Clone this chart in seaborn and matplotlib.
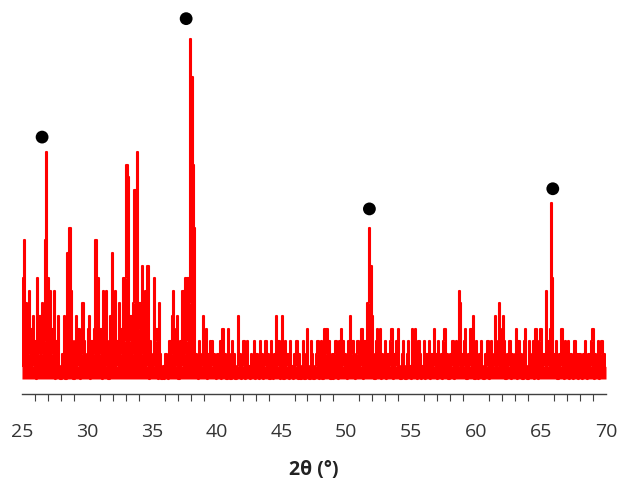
import numpy as np
import pandas as pd
import seaborn as sns
import matplotlib.pyplot as plt

# ── Data ────────────────────────────────────────────────────────────────────
# 2-theta scan, 25-70 deg, 0.1 deg step (one row per degree)
TWO_THETA_START = 25.0
TWO_THETA_STEP  = 0.1
intensity = [
    1, 8, 11, 6, 3, 2, 7, 4, 1, 5,      # 25
    3, 0, 8, 2, 5, 2, 6, 3, 11, 18,     # 26
    8, 3, 7, 2, 4, 7, 0, 3, 5, 1,       # 27
    0, 2, 1, 5, 0, 10, 4, 12, 7, 3,     # 28
    0, 3, 5, 1, 4, 0, 2, 6, 3, 2,       # 29
    1, 4, 5, 0, 3, 2, 4, 11, 3, 8,      # 30
    2, 4, 0, 7, 1, 7, 3, 0, 5, 2,       # 31
    10, 2, 7, 1, 3, 6, 2, 4, 8, 3,      # 32
    8, 17, 16, 3, 5, 2, 6, 15, 7, 18,   # 33
    4, 6, 2, 9, 3, 7, 1, 9, 0, 3,       # 34
    2, 1, 8, 3, 4, 0, 6, 2, 0, 1,       # 35
    0, 2, 1, 0, 3, 2, 5, 7, 1, 4,       # 36
    5, 0, 3, 1, 7, 2, 8, 3, 8, 6,       # 37
    27, 24, 17, 12, 2, 1, 0, 3, 1, 2,   # 38
    5, 1, 4, 0, 2, 3, 1, 3, 2, 1,       # 39
    0, 2, 1, 3, 0, 4, 1, 2, 0, 4,       # 40
    2, 0, 3, 1, 2, 0, 1, 5, 2, 0,       # 41
    1, 3, 0, 2, 3, 1, 0, 2, 1, 3,       # 42
    0, 2, 1, 0, 3, 2, 0, 1, 3, 1,       # 43
    2, 0, 3, 1, 0, 2, 5, 1, 3, 0,       # 44
    2, 5, 0, 3, 1, 2, 0, 3, 1, 0,       # 45
    2, 1, 3, 0, 2, 0, 1, 3, 0, 2,       # 46
    4, 1, 0, 3, 2, 0, 1, 2, 3, 0,       # 47
    1, 3, 0, 4, 2, 4, 1, 3, 0, 2,       # 48
    0, 2, 3, 1, 0, 3, 4, 1, 3, 2,       # 49
    1, 0, 3, 5, 2, 3, 1, 0, 2, 3,       # 50
    2, 1, 4, 0, 3, 3, 6, 6, 12, 9,      # 51
    5, 2, 0, 3, 4, 1, 4, 0, 2, 1,       # 52
    3, 0, 2, 1, 3, 4, 0, 2, 1, 3,       # 53
    4, 1, 0, 2, 3, 1, 0, 2, 3, 1,       # 54
    0, 4, 2, 4, 1, 0, 3, 2, 0, 1,       # 55
    3, 0, 2, 1, 3, 0, 2, 1, 4, 2,       # 56
    0, 3, 1, 2, 0, 3, 4, 1, 2, 0,       # 57
    2, 1, 3, 0, 2, 3, 1, 7, 6, 2,       # 58
    1, 3, 4, 0, 2, 1, 4, 2, 5, 0,       # 59
    3, 1, 0, 2, 3, 1, 0, 2, 1, 3,       # 60
    0, 2, 3, 1, 2, 5, 1, 3, 6, 2,       # 61
    4, 5, 3, 0, 2, 1, 3, 0, 2, 1,       # 62
    2, 4, 0, 3, 1, 2, 0, 3, 4, 1,       # 63
    0, 3, 2, 1, 3, 0, 4, 2, 0, 3,       # 64
    4, 2, 1, 2, 7, 1, 3, 4, 14, 8,      # 65
    2, 1, 3, 0, 2, 1, 4, 2, 0, 3,       # 66
    1, 3, 0, 2, 1, 0, 3, 1, 2, 0,       # 67
    2, 1, 0, 2, 3, 1, 0, 2, 1, 3,       # 68
    4, 0, 2, 1, 3, 0, 2, 3, 1, 2,       # 69
    1,                                  # 70
]

# peak markers (black dots)
marker_x = [26.55, 37.65, 51.77, 65.9]
marker_y = [19.2, 28.6, 13.5, 15.1]

XTICKS = [25, 30, 35, 40, 45, 50, 55, 60, 65, 70]
XLABEL = '2θ (°)'
RED = '#ff0000'
# ────────────────────────────────────────────────────────────────────────────

two_theta = np.round(TWO_THETA_START + TWO_THETA_STEP * np.arange(len(intensity)), 1)
df = pd.DataFrame({'two_theta': two_theta, 'intensity': intensity})
dots = pd.DataFrame({'x': marker_x, 'y': marker_y})

sns.set_style('white')
plt.rcParams['font.family'] = ['Open Sans', 'DejaVu Sans']

fig = plt.figure(figsize=(6.19, 4.85), dpi=100)
ax = fig.add_axes([0.0355, 0.1856, 0.9435, 0.8144])

# the original scan is sampled much finer, so the noise reads as a solid band;
# fill under the step curve to get the same look
ax.fill_between(df['two_theta'], 0, df['intensity'], step='mid',
                color=RED, linewidth=0)
sns.lineplot(data=df, x='two_theta', y='intensity', color=RED,
             linewidth=1.5, estimator=None, drawstyle='steps-mid', ax=ax)
sns.scatterplot(data=dots, x='x', y='y', color='black', s=85,
                edgecolor='none', ax=ax, clip_on=False, zorder=5)

ax.set_xlim(25, 70)
ax.set_ylim(-1.19, 30.16)
ax.set_xticks(XTICKS)
ax.set_xticks(np.arange(25, 71, 1), minor=True)
ax.set_yticks([])

for side in ['top', 'right', 'left']:
    ax.spines[side].set_visible(False)
ax.spines['bottom'].set_color('#404040')
ax.spines['bottom'].set_linewidth(1.0)

ax.tick_params(axis='x', which='major', direction='out', length=8, width=1.0,
               color='#404040', labelsize=14, labelcolor='#333333', pad=12)
ax.tick_params(axis='x', which='minor', direction='out', length=5, width=0.8,
               color='#404040', bottom=True)

ax.set_xlabel(XLABEL, fontsize=14, fontweight='bold', color='#222222', labelpad=14)
ax.set_ylabel('')

fig.savefig('out.png', dpi=100)
plt.close(fig)
